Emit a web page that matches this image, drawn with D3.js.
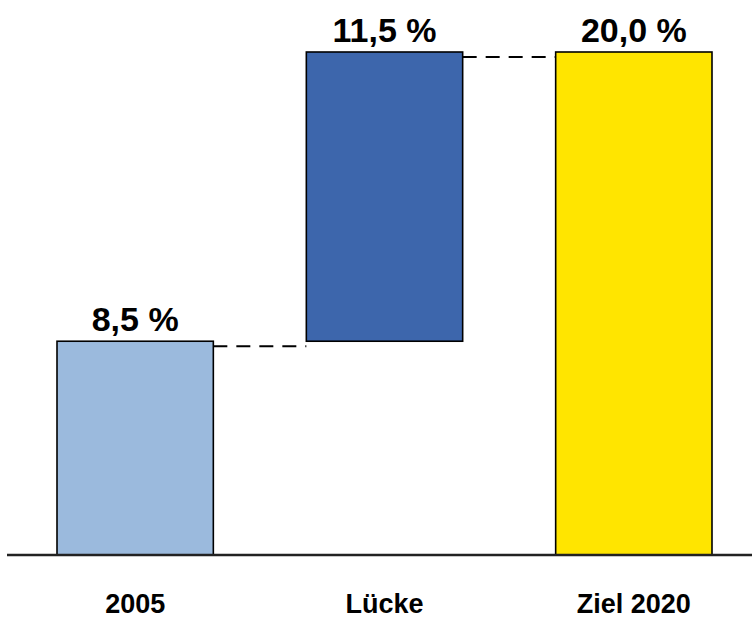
<!DOCTYPE html>
<html>
<head>
<meta charset="utf-8">
<script src="https://cdn.jsdelivr.net/npm/d3@7"></script>
<style>
  html, body { margin: 0; padding: 0; background: #fff; }
  svg { display: block; }
  text { font-family: "Liberation Sans", Arial, sans-serif; font-weight: bold; fill: #000; }
</style>
</head>
<body>
<svg id="chart" width="752" height="618"></svg>
<script>
const categories = ["2005", "Lücke", "Ziel 2020"];
const starts = [0, 8.5, 0];
const values = [8.5, 11.5, 20.0];
const valueLabels = ["8,5 %", "11,5 %", "20,0 %"];
const colors = ["#9BBADD", "#3D66AC", "#FFE500"];

const svg = d3.select("#chart");
const W = 752, H = 618;

const x = d3.scaleBand().domain(categories).range([57, 712]).paddingInner(0.373).paddingOuter(0);
const y = d3.scaleLinear().domain([0, 20]).range([555, 52]);

const data = categories.map((c, i) => ({ cat: c, start: starts[i], end: starts[i] + values[i], label: valueLabels[i], color: colors[i] }));

// connectors (dashed)
for (let i = 0; i < data.length - 1; i++) {
  const level = data[i].end;
  svg.append("line")
    .attr("x1", x(data[i].cat) + x.bandwidth())
    .attr("x2", x(data[i + 1].cat))
    .attr("y1", y(level) + 5)
    .attr("y2", y(level) + 5)
    .attr("stroke", "#000")
    .attr("stroke-width", 2)
    .attr("stroke-dasharray", "14,9");
}

// bars
svg.selectAll("rect.bar").data(data).enter().append("rect")
  .attr("class", "bar")
  .attr("x", d => x(d.cat))
  .attr("width", x.bandwidth())
  .attr("y", d => y(d.end))
  .attr("height", d => y(d.start) - y(d.end))
  .attr("fill", d => d.color)
  .attr("stroke", "#000")
  .attr("stroke-width", 1.6);

// axis line
svg.append("line")
  .attr("x1", 7).attr("x2", W)
  .attr("y1", y(0)).attr("y2", y(0))
  .attr("stroke", "#222")
  .attr("stroke-width", 2.5);

// value labels
svg.selectAll("text.val").data(data).enter().append("text")
  .attr("class", "val")
  .attr("x", d => x(d.cat) + x.bandwidth() / 2)
  .attr("y", d => y(d.end) - 10)
  .attr("text-anchor", "middle")
  .style("font-size", "34px")
  .text(d => d.label);

// category labels
svg.selectAll("text.cat").data(data).enter().append("text")
  .attr("class", "cat")
  .attr("x", d => x(d.cat) + x.bandwidth() / 2)
  .attr("y", 613)
  .attr("text-anchor", "middle")
  .style("font-size", "27px")
  .text(d => d.cat);
</script>
</body>
</html>
